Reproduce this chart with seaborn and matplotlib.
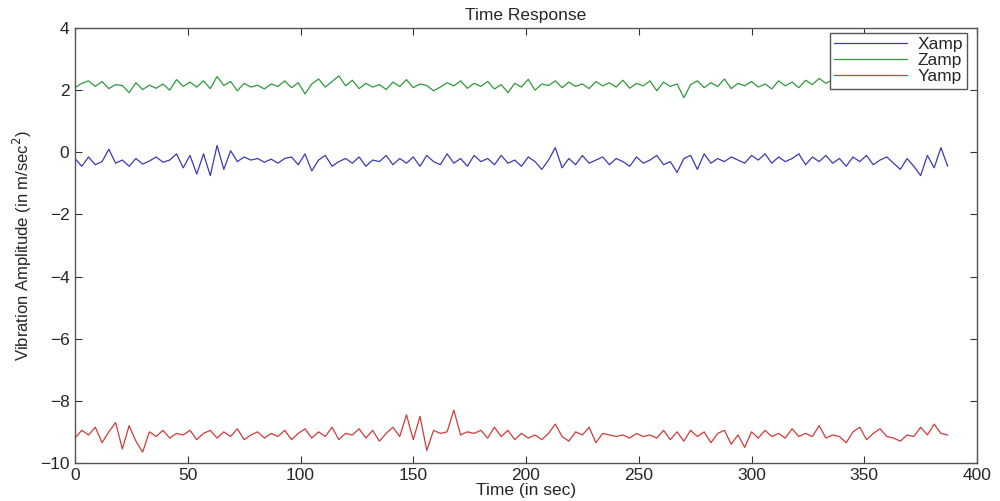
import matplotlib
matplotlib.use('Agg')
import seaborn as sns
import matplotlib.pyplot as plt
import numpy as np
import pandas as pd

# sample times (sec), one reading every 3 s
time_sec = np.arange(0, 388, 3)

x_amp = [-0.20, -0.45, -0.15, -0.40, -0.30, 0.10, -0.35, -0.25, -0.45, -0.20,
         -0.38, -0.28, -0.15, -0.32, -0.25, -0.05, -0.50, -0.10, -0.70, -0.05,
         -0.75, 0.22, -0.55, 0.05, -0.30, -0.15, -0.25, -0.20, -0.32, -0.22,
         -0.35, -0.20, -0.15, -0.40, -0.05, -0.60, -0.25, -0.10, -0.45, -0.30,
         -0.20, -0.35, -0.15, -0.45, -0.25, -0.30, -0.10, -0.40, -0.20, -0.35,
         -0.15, -0.45, -0.10, -0.30, -0.40, -0.05, -0.35, -0.20, -0.45, -0.10,
         -0.30, -0.20, -0.40, -0.10, -0.35, -0.25, -0.45, -0.15, -0.30, -0.55,
         -0.25, 0.15, -0.50, -0.20, -0.40, -0.10, -0.35, -0.25, -0.15, -0.40,
         -0.20, -0.30, -0.45, -0.15, -0.35, -0.25, -0.10, -0.40, -0.30, -0.65,
         -0.20, -0.10, -0.55, -0.05, -0.35, -0.20, -0.30, -0.15, -0.25, -0.35,
         -0.10, -0.25, -0.05, -0.35, -0.15, -0.30, -0.20, -0.05, -0.40, -0.15,
         -0.30, -0.10, -0.35, -0.20, -0.45, -0.15, -0.30, -0.10, -0.40, -0.25,
         -0.15, -0.35, -0.55, -0.20, -0.45, -0.75, -0.10, -0.50, 0.15, -0.45]

z_amp = [2.08, 2.22, 2.30, 2.12, 2.28, 2.05, 2.18, 2.15, 1.92, 2.24,
         2.02, 2.16, 2.06, 2.20, 2.00, 2.34, 2.12, 2.26, 2.10, 2.30,
         2.05, 2.44, 2.15, 2.28, 1.98, 2.22, 2.10, 2.16, 2.04, 2.20,
         2.12, 2.30, 2.08, 2.24, 1.88, 2.20, 2.36, 2.10, 2.28, 2.46,
         2.14, 2.32, 2.05, 2.22, 2.10, 2.18, 2.02, 2.26, 2.12, 2.34,
         2.08, 2.20, 2.15, 1.98, 2.10, 2.24, 2.14, 2.30, 2.06, 2.22,
         2.12, 2.28, 2.04, 2.18, 1.92, 2.22, 2.10, 2.35, 2.00, 2.20,
         2.15, 2.30, 2.08, 2.26, 2.12, 2.20, 2.05, 2.28, 2.14, 2.24,
         2.10, 2.32, 2.06, 2.22, 2.14, 2.30, 1.98, 2.26, 2.12, 2.20,
         1.76, 2.18, 2.30, 2.08, 2.24, 2.12, 2.36, 2.05, 2.22, 2.14,
         2.28, 2.10, 2.20, 2.04, 2.30, 2.14, 2.26, 2.08, 2.32, 2.18,
         2.38, 2.22, 2.34, 2.16, 2.40, 2.20, 2.32, 2.18, 2.36, 2.24,
         2.30, 2.20, 2.38, 2.26, 2.34, 2.22, 2.40, 2.28, 2.32, 2.30]

y_amp = [-9.20, -8.95, -9.10, -8.85, -9.35, -9.00, -8.70, -9.55, -8.80, -9.30,
         -9.65, -9.00, -9.15, -8.95, -9.20, -9.05, -9.10, -8.95, -9.25, -9.05,
         -8.95, -9.20, -9.00, -9.15, -8.90, -9.25, -9.10, -9.00, -9.20, -9.05,
         -9.15, -8.95, -9.25, -9.05, -8.90, -9.20, -9.00, -9.15, -8.85, -9.25,
         -9.05, -9.10, -8.90, -9.20, -8.95, -9.30, -9.05, -8.85, -9.15, -8.45,
         -9.25, -8.50, -9.60, -8.95, -9.05, -9.00, -8.30, -9.10, -9.00, -9.05,
         -8.95, -9.20, -8.85, -9.15, -8.95, -9.25, -9.05, -9.20, -9.10, -9.25,
         -9.05, -8.75, -9.15, -9.30, -9.00, -9.10, -8.85, -9.35, -9.05, -9.10,
         -9.15, -9.10, -9.20, -9.05, -9.15, -9.10, -9.20, -8.95, -9.25, -9.00,
         -9.30, -8.95, -9.15, -9.00, -9.35, -9.05, -8.95, -9.40, -9.10, -9.50,
         -9.00, -9.20, -8.95, -9.15, -9.05, -9.20, -8.90, -9.15, -9.05, -9.15,
         -8.80, -9.20, -9.10, -9.15, -9.35, -9.00, -8.85, -9.25, -9.05, -8.90,
         -9.15, -9.20, -9.30, -9.10, -9.15, -8.85, -9.10, -8.75, -9.05, -9.10]

series_names = ['Xamp', 'Zamp', 'Yamp']
n = len(time_sec)
df = pd.DataFrame({
    'time': np.concatenate([time_sec] * 3),
    'value': np.concatenate([x_amp, z_amp, y_amp]),
    'series': ['Xamp'] * n + ['Zamp'] * n + ['Yamp'] * n,
})

sns.set_style('white')
plt.rcParams['font.family'] = ['Liberation Sans', 'DejaVu Sans']

fig = plt.figure(figsize=(10, 5.01), dpi=100)
ax = fig.add_axes([0.075, 0.076, 0.902, 0.868])

palette = {'Xamp': '#3a3ab4', 'Zamp': '#2e9a3a', 'Yamp': '#d23a3a'}
sns.lineplot(data=df, x='time', y='value', hue='series', hue_order=series_names,
             palette=palette, linewidth=0.9, ax=ax)

ax.set_xlim(0, 400)
ax.set_ylim(-10, 4)
ax.set_xticks(range(0, 401, 50))
ax.set_yticks(range(-10, 5, 2))
ax.tick_params(direction='in', length=5, labelsize=12.5, top=True, right=True,
               bottom=True, left=True, color='#333333', pad=4)
for spine in ax.spines.values():
    spine.set_color('#555555')
    spine.set_linewidth(1.0)

ax.set_title('Time Response', fontsize=12.5, pad=6)
ax.set_xlabel('Time (in sec)', fontsize=12.5, labelpad=0)
ax.set_ylabel('Vibration Amplitude (in m/sec$^2$)', fontsize=12, labelpad=4)

leg = ax.legend(loc='upper right', bbox_to_anchor=(0.989, 0.989), borderaxespad=0,
                fancybox=False, framealpha=1, edgecolor='#555555', fontsize=12.5,
                handlelength=4.2, labelspacing=0.05, borderpad=0.25, handletextpad=0.6)
leg.set_zorder(10)

fig.savefig('out.png', dpi=100)
